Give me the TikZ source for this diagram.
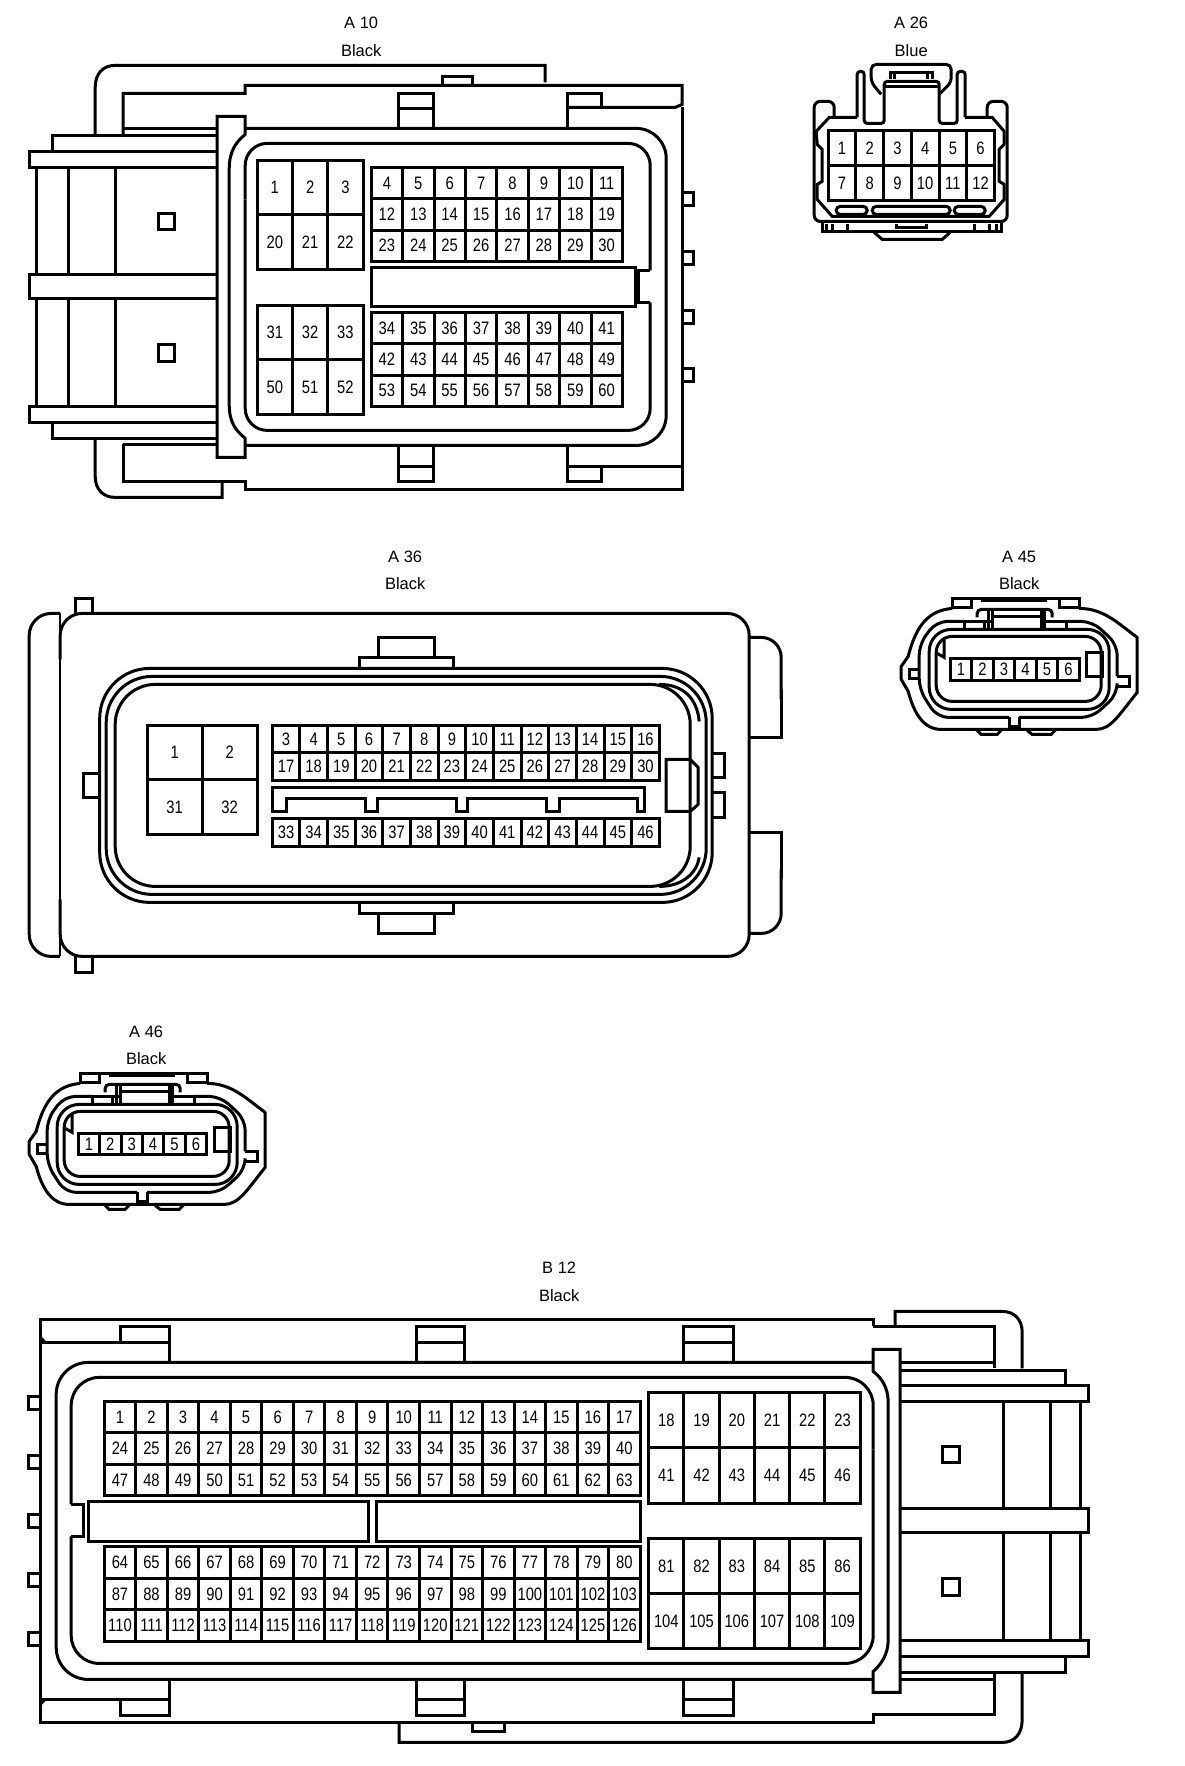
\documentclass[tikz,border=0pt]{standalone}
\usepackage{fontspec}
\setmainfont{Liberation Sans}
\newfontfamily\pinfont[FakeStretch=0.82]{Liberation Sans}
\usetikzlibrary{positioning}
\tikzset{
  wire/.style={line width=3pt, line join=miter},
  tag/.style={font=\fontsize{16.5}{18}\selectfont, inner sep=0pt},
  pincell/.style={draw, line width=3pt, inner sep=0pt, outer sep=0pt, font=\pinfont\fontsize{18}{18}\selectfont},
}
% prefix, left, top, cell width, cell height, first number, how many
\newcommand{\pinrow}[7]{%
  \foreach \k in {1,...,#7}{%
    \pgfmathtruncatemacro{\num}{#6+\k-1}%
    \node[pincell, minimum width=#4pt, minimum height=#5pt] (#1-\num) at ({#2+(\k-0.5)*#4},{#3+#5/2}) {\num};
  }%
}
\newcommand{\lockshell}{%
  \draw[wire] (953,609) -- (953,599) -- (1080,599) -- (1080,609);
  \draw[wire] (953,608) -- (972,608) -- (972,600);
  \draw[wire] (1060,600) -- (1060,608) -- (1080,608);
  \draw[wire] (982,601) -- (1048,601);
  \draw[wire, line join=round] (953,609) .. controls (930,611) and (917,625) .. (909,657) -- (902,667) -- (902,680) -- (909,692) .. controls (915,715) and (925,730) .. (942,730) -- (1097,730) .. controls (1112,730) and (1120,715) .. (1138,693) -- (1138,638) .. controls (1120,625) and (1105,609) .. (1080,609);
  \draw[wire, rounded corners=11pt] (965,622) -- (937,622) -- (920,645) -- (920,690) -- (938,718) -- (1010,718);
  \draw[wire] (1010,718) -- (1010,727) -- (1020,727) -- (1020,718);
  \draw[wire, rounded corners=11pt] (1020,718) -- (1093,718) -- (1118,695) -- (1118,687);
  \draw[wire] (1118,687) -- (1130,687) -- (1130,677) -- (1118,677);
  \draw[wire, rounded corners=11pt] (1118,677) -- (1118,645) -- (1093,622) -- (1067,622);
  \draw[wire] (919,670) -- (910,670) -- (910,679) -- (919,679);
  \draw[wire, rounded corners=22pt] (930,630) rectangle (1110,710);
  \draw[wire, rounded corners=16pt] (937,637) rectangle (1102,702);
  \draw[wire] (945,640) -- (945,658) -- (938,654);
  \draw[wire] (1087,653) rectangle (1103,677);
  \draw[wire, rounded corners=4pt] (978,618) -- (978,610) -- (1053,610) -- (1053,618);
  \draw[wire] (993,610) -- (993,630) (1042,610) -- (1042,630) (993,617) -- (1042,617);
  \draw[wire] (965,630) -- (965,622) -- (993,622) (1067,630) -- (1067,622) -- (1042,622);
  \draw[wire] (985,622) -- (985,630) (989,610) -- (989,630) (1045,610) -- (1045,630);
  \draw[wire] (977,730) -- (982,735) -- (998,735) -- (1002,731) (1028,731) -- (1033,735) -- (1052,735) -- (1057,730);
}
\begin{document}
\begin{tikzpicture}[x=1pt,y=-1pt]
\useasboundingbox (0.8,0.6) rectangle (1184.8,1766.6);

% A 10
\node[tag] (a10name) at (362,23) {A 10};
\node[tag] (a10color) at (362,51) {Black};
\draw[wire] (546,83) -- (546,66) -- (116,66) .. controls (104,66) and (96,74) .. (96,88) -- (96,136);
\draw[wire] (124,136) -- (124,94) -- (246,94) -- (246,86) -- (683,86) -- (683,105) -- (676,108) -- (568,108);
\draw[wire] (683,108) -- (683,467) -- (676,467) -- (568,467);
\draw[wire] (683,468) -- (683,490) -- (246,490) -- (246,482) -- (124,482) -- (124,445);
\draw[wire] (96,439) -- (96,477) .. controls (96,490) and (104,498) .. (116,498) -- (223,498) -- (223,482);
\draw[wire] (443,86) -- (443,77) -- (473,77) -- (473,86);
\draw[wire] (399,128) -- (399,94) -- (434,94) -- (434,128) (399,109) -- (434,109);
\draw[wire] (568,128) -- (568,94) -- (602,94) -- (602,108);
\draw[wire] (399,447) -- (399,482) -- (434,482) -- (434,447) (399,467) -- (434,467);
\draw[wire] (568,447) -- (568,482) -- (602,482) -- (602,467);
\draw[wire] (124,129) -- (218,129) (124,445) -- (218,445);
\draw[wire] (218,136) -- (53,136) -- (53,152) (218,439) -- (53,439) -- (53,423);
\draw[wire] (218,152) -- (30,152) -- (30,168) -- (218,168);
\draw[wire] (218,275) -- (30,275) -- (30,299) -- (218,299);
\draw[wire] (218,407) -- (30,407) -- (30,423) -- (218,423);
\foreach \xv in {37,69,116}{
  \draw[wire] (\xv,168) -- (\xv,275) (\xv,299) -- (\xv,407);
}
\draw[wire] (159,214) rectangle (175,230);
\draw[wire] (159,345) rectangle (175,362);
\draw[wire] (218,117) -- (246,117) -- (246,135) .. controls (238,142) and (230,150) .. (230,170) -- (230,405) .. controls (230,425) and (238,432) .. (246,439) -- (246,458) -- (218,458) -- cycle;
\draw[wire, rounded corners=30pt] (246,129) -- (667,129) -- (667,446) -- (246,446);
\draw[wire, rounded corners=22pt] (246,200) -- (246,144) -- (651,144) -- (651,271);
\draw[wire] (651,271) -- (639,271) -- (639,303) -- (651,303);
\draw[wire, rounded corners=22pt] (651,303) -- (651,431) -- (246,431) -- (246,200);
\foreach \yv in {193,252,311,369}{
  \draw[wire] (683,\yv) -- (694,\yv) -- (694,\yv+13) -- (683,\yv+13);
}
\pinrow{a10}{258}{161}{35.3}{54.5}{1}{3}
\pinrow{a10}{258}{215.5}{35.3}{54.5}{20}{3}
\pinrow{a10}{372}{168}{31.4}{31.3}{4}{8}
\pinrow{a10}{372}{199.3}{31.4}{31.3}{12}{8}
\pinrow{a10}{372}{230.6}{31.4}{31.3}{23}{8}
\draw[wire] (372,268) rectangle (636,307);
\pinrow{a10}{258}{306}{35.3}{54.5}{31}{3}
\pinrow{a10}{258}{360.5}{35.3}{54.5}{50}{3}
\pinrow{a10}{372}{313}{31.4}{31.3}{34}{8}
\pinrow{a10}{372}{344.3}{31.4}{31.3}{42}{8}
\pinrow{a10}{372}{375.6}{31.4}{31.3}{53}{8}

% A 26
\node[tag] (a26name) at (912,23) {A 26};
\node[tag] (a26color) at (912,51) {Blue};
\draw[wire, rounded corners=6pt] (835,117) -- (835,102) -- (815,102) -- (815,222) -- (1008,222) -- (1008,102) -- (988,102) -- (988,117);
\draw[wire] (858,118) -- (830,118) -- (817,132) -- (818,145) -- (823,150) -- (823,182) -- (818,185) -- (818,200) -- (833,217) -- (990,217) -- (1005,200) -- (1005,185) -- (1000,182) -- (1000,150) -- (1005,145) -- (1005,132) -- (993,118) -- (966,118);
\draw[wire, rounded corners=3pt] (858,118) -- (858,72) -- (865,72) -- (865,124) -- (885,124) -- (885,82) -- (940,82) -- (940,124) -- (958,124) -- (958,72) -- (966,72) -- (966,118);
\draw[wire, rounded corners=5pt] (882,95) -- (872,83) -- (872,65) -- (952,65) -- (952,83) -- (940,95);
\draw[wire] (885,87) -- (940,87) (891,80) -- (891,73) -- (933,73) -- (933,80) (895,74) -- (895,80) (928,74) -- (928,80);
\draw[wire, rounded corners=4pt] (837,207) rectangle (868,215);
\draw[wire, rounded corners=4pt] (873,207) rectangle (951,215);
\draw[wire, rounded corners=4pt] (955,207) rectangle (986,215);
\draw[wire] (823,223) -- (823,232) -- (1002,232) -- (1002,223);
\foreach \xv in {827,833,848,975,990,997}{
  \draw[wire] (\xv,225) -- (\xv,232);
}
\draw[wire] (897,225) -- (897,228) -- (927,228) -- (927,225);
\draw[wire] (875,233) -- (883,240) -- (943,240) -- (951,233);
\pinrow{a26}{829}{131}{27.7}{35}{1}{6}
\pinrow{a26}{829}{166}{27.7}{35}{7}{6}

% A 36
\node[tag] (a36name) at (406,557) {A 36};
\node[tag] (a36color) at (406,584) {Black};
\draw[wire, rounded corners=22pt] (61,614) -- (30,614) -- (30,957) -- (61,957);
\draw[line width=2pt] (61,614) -- (61,957);
\draw[wire, rounded corners=22pt] (61,660) -- (61,614) -- (750,614) -- (750,957) -- (61,957) -- (61,900);
\draw[wire] (76,614) -- (76,599) -- (93,599) -- (93,614) (76,957) -- (76,973) -- (93,973) -- (93,957);
\draw[wire, rounded corners=20pt] (750,638) -- (782,638) -- (782,700);
\draw[wire] (782,690) -- (782,738) -- (750,738) (750,833) -- (782,833) -- (782,880);
\draw[wire, rounded corners=20pt] (782,870) -- (782,934) -- (750,934);
\draw[wire] (360,668) -- (360,658) -- (454,658) -- (454,668) (379,658) -- (379,638) -- (435,638) -- (435,658);
\draw[wire] (360,903) -- (360,914) -- (454,914) -- (454,903) (379,914) -- (379,934) -- (435,934) -- (435,914);
\draw[wire, rounded corners=50pt] (100.5,669) rectangle (713,903);
\draw[wire, rounded corners=46pt] (107,677) rectangle (707,895);
\draw[wire, rounded corners=40pt] (116,685) rectangle (691,887);
\draw[wire] (660,685) .. controls (685,685) and (698,700) .. (700,722);
\draw[wire] (660,887) .. controls (685,887) and (698,872) .. (700,858);
\draw[wire] (99.5,774) -- (84,774) -- (84,798) -- (99.5,798);
\draw[wire] (714,754) -- (725.5,754) -- (725.5,778) -- (714,778) (714,793) -- (725.5,793) -- (725.5,818) -- (714,818);
\draw[wire] (667,760) -- (691,760) -- (699,768) -- (699,805) -- (691,812) -- (667,812) -- cycle;
\pinrow{a36}{148}{726}{55}{54.5}{1}{2}
\pinrow{a36}{148}{780.5}{55}{54.5}{31}{2}
\pinrow{a36}{273}{726}{27.65}{27.5}{3}{14}
\pinrow{a36}{273}{753.5}{27.65}{27.5}{17}{14}
\pinrow{a36}{273}{819}{27.65}{28}{33}{14}
\draw[wire] (273,788) -- (645,788) -- (645,812) -- (638,812) -- (638,799) -- (560,799) -- (560,812) -- (547,812) -- (547,799) -- (468,799) -- (468,812) -- (457,812) -- (457,799) -- (378,799) -- (378,812) -- (366,812) -- (366,799) -- (287,799) -- (287,812) -- (273,812) -- cycle;

% A 45
\node[tag] (a45name) at (1020,557) {A 45};
\node[tag] (a45color) at (1020,584) {Black};
\lockshell
\pinrow{a45}{951}{659}{21.5}{22}{1}{6}

% A 46
\node[tag] (a46name) at (147,1032) {A 46};
\node[tag] (a46color) at (147,1059) {Black};
\begin{scope}[shift={(-872,475)}]
\lockshell
\end{scope}
\pinrow{a46}{79}{1134}{21.4}{21}{1}{6}

% B 12
\node[tag] (b12name) at (560,1268) {B 12};
\node[tag] (b12color) at (560,1296) {Black};
\draw[wire] (874,1327) -- (874,1320) -- (41,1320) -- (41,1723) -- (874,1723) -- (874,1715) -- (995,1715) -- (995,1673);
\draw[wire] (874,1327) -- (995,1327) -- (995,1369);
\draw[wire] (896,1327) -- (896,1312) -- (1003,1312) .. controls (1015,1312) and (1023,1320) .. (1023,1333) -- (1023,1369);
\draw[wire] (400,1723) -- (400,1743) -- (1003,1743) .. controls (1015,1743) and (1023,1735) .. (1023,1720) -- (1023,1673);
\draw[wire] (473,1723) -- (473,1732) -- (505,1732) -- (505,1723);
\draw[wire] (41,1343) -- (170,1343) (41,1700) -- (170,1700);
\draw[wire] (41,1338) -- (46,1343) (41,1705) -- (46,1700);
\draw[wire] (121,1343) -- (121,1327) -- (170,1327) -- (170,1362) (121,1700) -- (121,1716) -- (170,1716) -- (170,1681);
\foreach \xa/\xb in {417/465,684/734}{
  \draw[wire] (\xa,1362) -- (\xa,1327) -- (\xb,1327) -- (\xb,1362) (\xa,1343) -- (\xb,1343);
  \draw[wire] (\xa,1681) -- (\xa,1716) -- (\xb,1716) -- (\xb,1681) (\xa,1700) -- (\xb,1700);
}
\foreach \yv in {1397,1456,1515,1574,1633}{
  \draw[wire] (41,\yv) -- (29.5,\yv) -- (29.5,\yv+13) -- (41,\yv+13);
}
\draw[wire, rounded corners=32pt] (874,1363) -- (57,1363) -- (57,1680) -- (874,1680);
\draw[wire, rounded corners=28pt] (874,1450) -- (874,1378) -- (72,1378) -- (72,1505);
\draw[wire] (72,1505) -- (84,1505) -- (84,1537) -- (72,1537);
\draw[wire, rounded corners=28pt] (72,1537) -- (72,1664) -- (874,1664) -- (874,1450);
\draw[wire] (874,1350) -- (901,1350) -- (901,1693) -- (874,1693) -- (874,1672) .. controls (882,1665) and (889,1655) .. (889,1640) -- (889,1403) .. controls (889,1388) and (882,1378) .. (874,1372) -- cycle;
\draw[wire] (89,1502) rectangle (369.5,1542);
\draw[wire] (377,1502) rectangle (641,1542);
\pinrow{b12}{105}{1402}{31.53}{31.4}{1}{17}
\pinrow{b12}{105}{1433.4}{31.53}{31.4}{24}{17}
\pinrow{b12}{105}{1464.8}{31.53}{31.4}{47}{17}
\pinrow{b12}{105}{1547}{31.53}{31.7}{64}{17}
\pinrow{b12}{105}{1578.7}{31.53}{31.7}{87}{17}
\pinrow{b12}{105}{1610.4}{31.53}{31.7}{110}{17}
\pinrow{b12}{649.5}{1393}{35.25}{55.5}{18}{6}
\pinrow{b12}{649.5}{1448.5}{35.25}{55.5}{41}{6}
\pinrow{b12}{649.5}{1539}{35.25}{55}{81}{6}
\pinrow{b12}{649.5}{1594}{35.25}{55}{104}{6}
\draw[wire] (901,1363) -- (995,1363) (901,1680) -- (995,1680);
\draw[wire] (901,1371) -- (1066,1371) -- (1066,1386) (901,1673) -- (1066,1673) -- (1066,1657);
\draw[wire] (901,1386) -- (1089,1386) -- (1089,1402) -- (901,1402);
\draw[wire] (901,1509) -- (1089,1509) -- (1089,1533) -- (901,1533);
\draw[wire] (901,1641) -- (1089,1641) -- (1089,1657) -- (901,1657);
\foreach \xv in {1004,1051,1081}{
  \draw[wire] (\xv,1402) -- (\xv,1509) (\xv,1533) -- (\xv,1641);
}
\draw[wire] (943,1447) rectangle (960,1463);
\draw[wire] (943,1579) rectangle (960,1596);
\end{tikzpicture}
\end{document}
